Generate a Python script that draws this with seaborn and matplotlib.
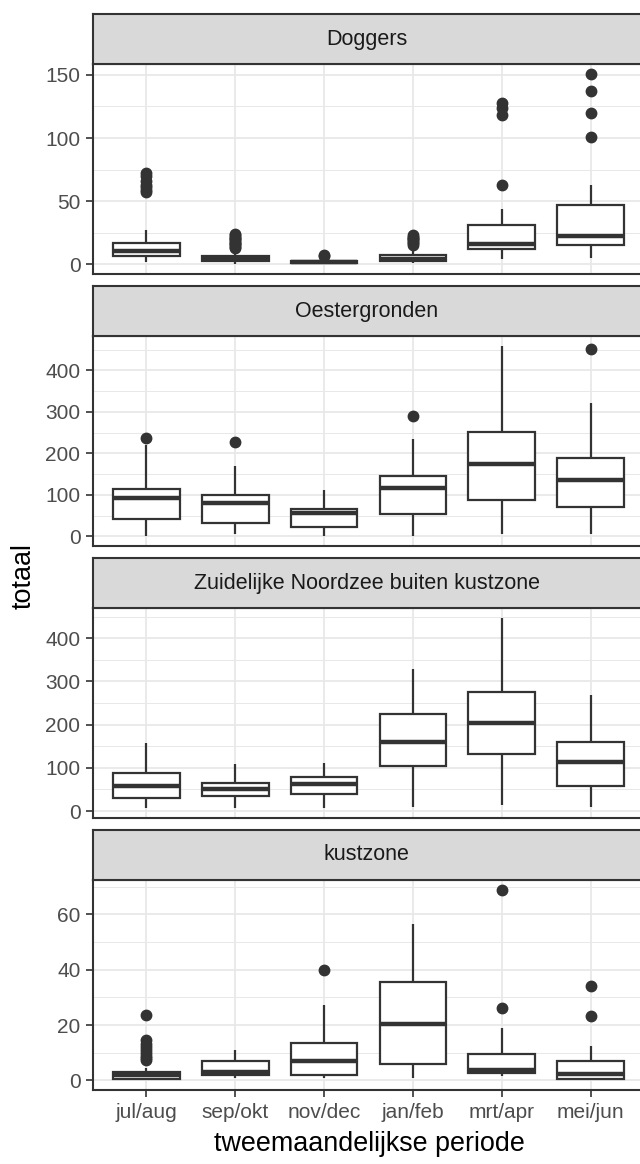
import pandas as pd
import matplotlib
matplotlib.use("Agg")
import matplotlib.pyplot as plt
from matplotlib.ticker import MultipleLocator
import seaborn as sns

# periodes en gebieden
periodes = ["jul/aug", "sep/okt", "nov/dec", "jan/feb", "mrt/apr", "mei/jun"]
gebieden = ["Doggers", "Oestergronden", "Zuidelijke Noordzee buiten kustzone", "kustzone"]

dog_onder = [2, 0.5, 0, 1, 4, 5]
dog_q1 = [7, 2.5, 1, 2.5, 12, 15]
dog_med = [10.5, 4.5, 2, 4.5, 16, 22.5]
dog_q3 = [17, 6.3, 3, 7.5, 31.5, 47]
dog_boven = [27, 10, 5, 12, 44, 63]
dog_uit = [[57, 59, 61, 63, 66, 70, 72],
           [13, 14, 15, 16, 17, 18, 19, 20, 21, 22, 23, 24],
           [6.5, 7.5],
           [15.5, 17, 18, 19, 20, 21, 22, 23.5],
           [63, 118, 124, 128],
           [101, 120, 137, 151]]

# Oestergronden
oes_onder = [0, 7, 0, 0, 7, 7]
oes_q1 = [42, 32, 22, 53, 89, 70]
oes_med = [93, 80, 56, 117, 174, 135]
oes_q3 = [115, 100, 66, 146, 252, 190]
oes_boven = [221, 169, 111, 234, 460, 321]
oes_uit = [[238], [228], [], [291], [], [452]]

# Zuidelijke Noordzee buiten kustzone
zui_onder = [6, 6, 6, 10, 15, 10]
zui_q1 = [31, 35, 40, 104, 133, 59]
zui_med = [59, 52, 63, 159, 204, 113]
zui_q3 = [88, 65, 78, 225, 276, 160]
zui_boven = [157, 108, 112, 328, 448, 268]
zui_uit = [[], [], [], [], [], []]

# kustzone
kus_onder = [0, 1, 1, 1, 1.5, 0]
kus_q1 = [0.6, 1.8, 2.1, 5.8, 2.7, 0.6]
kus_med = [1.8, 3, 6.9, 20.5, 3.6, 2.4]
kus_q3 = [3, 7.2, 13.6, 35.6, 9.5, 7.2]
kus_boven = [4.5, 11, 27.4, 56.5, 19, 12.4]
kus_uit = [[7.5, 8, 9, 10, 11, 12, 13, 14.5, 23.5], [], [40], [], [26.3, 69], [23.3, 34.2]]

# y-tick stap per gebied
stappen = [50, 100, 100, 20]

stats = {
    "Doggers": (dog_onder, dog_q1, dog_med, dog_q3, dog_boven, dog_uit),
    "Oestergronden": (oes_onder, oes_q1, oes_med, oes_q3, oes_boven, oes_uit),
    "Zuidelijke Noordzee buiten kustzone": (zui_onder, zui_q1, zui_med, zui_q3, zui_boven, zui_uit),
    "kustzone": (kus_onder, kus_q1, kus_med, kus_q3, kus_boven, kus_uit),
}


def steekproef(lo, q1, med, q3, hi, uit):
    # n = 4k+1 waarden zodat de kwartielen precies op q1/med/q3 vallen
    k = max(len(uit) + 1, 2)
    top = [q3] * (k - 1 - len(uit)) + [hi] + list(uit)
    return [lo] + [q1] * k + [med] * k + [q3] * k + top


rows = []
for g in gebieden:
    lo, q1, med, q3, hi, uit = stats[g]
    for i, p in enumerate(periodes):
        for v in steekproef(lo[i], q1[i], med[i], q3[i], hi[i], uit[i]):
            rows.append((g, p, v))
df = pd.DataFrame(rows, columns=["gebied", "periode", "totaal"])

plt.rcParams["font.family"] = ["Liberation Sans", "DejaVu Sans"]

W, H = 640, 1164
fig = plt.figure(figsize=(W / 100, H / 100), dpi=100)

links, rechts = 93, 644
strip_top = [14, 286, 558, 830]
strip_h, panel_h = 50, 210
donker = "#333333"

for n, g in enumerate(gebieden):
    sub = df[df["gebied"] == g]
    p_top = strip_top[n] + strip_h
    ax = fig.add_axes([links / W, 1 - (p_top + panel_h) / H, (rechts - links) / W, panel_h / H])
    sns.boxplot(data=sub, x="periode", y="totaal", order=periodes, ax=ax,
                width=0.75, color="white", linecolor=donker, linewidth=1.6,
                showcaps=False, fliersize=7.5,
                flierprops=dict(marker="o", markerfacecolor=donker, markeredgecolor=donker),
                medianprops=dict(linewidth=3.2, color=donker))

    # limieten zoals ggplot (5% extra)
    vmin, vmax = sub["totaal"].min(), sub["totaal"].max()
    r = vmax - vmin
    ax.set_ylim(vmin - 0.05 * r, vmax + 0.05 * r)
    ax.set_xlim(-0.6, 5.6)

    ax.yaxis.set_major_locator(MultipleLocator(stappen[n]))
    ax.yaxis.set_minor_locator(MultipleLocator(stappen[n] / 2))
    ax.set_axisbelow(True)
    ax.grid(which="major", color="#E8E8E8", linewidth=1.3)
    ax.grid(which="minor", axis="y", color="#E8E8E8", linewidth=0.7)
    ax.tick_params(which="minor", length=0)
    ax.tick_params(axis="y", length=5, width=1.2, color=donker, pad=4,
                   labelsize=15, labelcolor="#4D4D4D")
    if n == len(gebieden) - 1:
        ax.tick_params(axis="x", length=5, width=1.2, color=donker, pad=4,
                       labelsize=15, labelcolor="#4D4D4D")
    else:
        ax.tick_params(axis="x", length=0, labelbottom=False)
    for s in ax.spines.values():
        s.set_color(donker)
        s.set_linewidth(1.5)
    ax.set_xlabel("")
    ax.set_ylabel("")

    # facet strip
    sax = fig.add_axes([links / W, 1 - p_top / H, (rechts - links) / W, strip_h / H])
    sax.set_facecolor("#D9D9D9")
    sax.set_xticks([])
    sax.set_yticks([])
    for s in sax.spines.values():
        s.set_color(donker)
        s.set_linewidth(1.5)
    sax.text(0.497, 0.5, g, transform=sax.transAxes, ha="center", va="center",
             fontsize=15.5, color="#1A1A1A")

fig.text(369 / W, 1 - 1144 / H, "tweemaandelijkse periode", ha="center", va="center",
         fontsize=19.4, color="black")
fig.text(24 / W, 1 - 576 / H, "totaal", ha="center", va="center", rotation=90,
         fontsize=19.4, color="black")

fig.savefig("out.png", dpi=100)
